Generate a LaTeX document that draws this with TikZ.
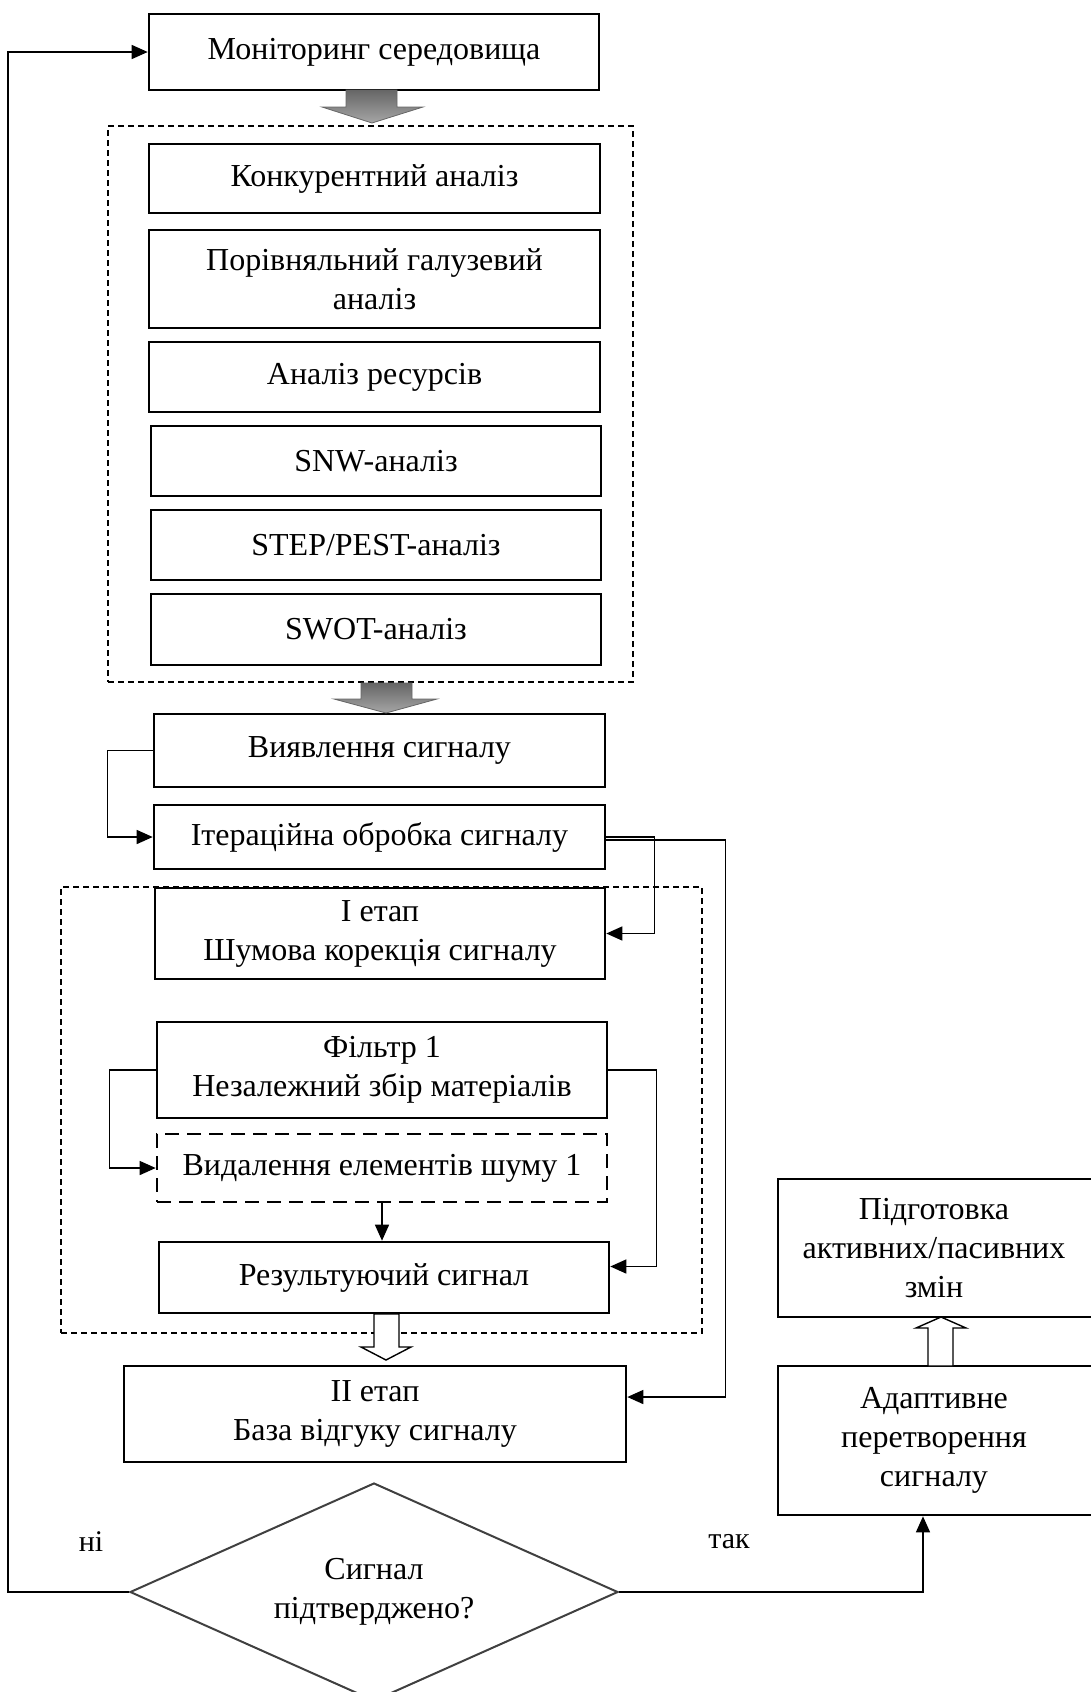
\documentclass[tikz,border=0pt]{standalone}
\usepackage{fontspec}
\setmainfont{Liberation Serif}
\usetikzlibrary{arrows.meta,fit,shapes.geometric,calc}
\begin{document}
\begin{tikzpicture}[x=0.5pt,y=-0.5pt,
  txt/.style={align=center,inner sep=0pt,font={\fontsize{16}{19.5}\selectfont}},
  box/.style={draw,line width=1.3pt,inner sep=0pt},
  dashbox/.style={box,dash pattern=on 7pt off 4pt},
  grp/.style={draw,line width=0.6pt,dash pattern=on 3pt off 2pt,inner sep=0pt},
  conn/.style={line width=0.7pt,-{Triangle[length=8pt,width=7pt]}},
  hollow/.style={draw,line width=0.7pt,fill=white},
  grey/.style={draw=black!60,line width=0.4pt,top color=black!60,bottom color=black!35},
  lbl/.style={font={\fontsize{15}{18}\selectfont},inner sep=0pt}]
\useasboundingbox (0,0) rectangle (1091,1692);
% group frames
\node[grp,fit={(108,126) (633,682)}] (g1) {};
\node[grp,fit={(61,887) (702,1333)}] (g2) {};
% boxes
\node[box,fit={(149,14) (599,90)},label={[txt]center:Моніторинг середовища}] (mon) {};
\node[box,fit={(149,144) (600,213)},label={[txt]center:Конкурентний аналіз}] (k1) {};
\node[box,fit={(149,230) (600,328)},label={[txt]center:Порівняльний галузевий\\аналіз}] (k2) {};
\node[box,fit={(149,342) (600,412)},label={[txt]center:Аналіз ресурсів}] (k3) {};
\node[box,fit={(151,426) (601,496)},label={[txt]center:SNW-аналіз}] (k4) {};
\node[box,fit={(151,510) (601,580)},label={[txt]center:STEP/PEST-аналіз}] (k5) {};
\node[box,fit={(151,594) (601,665)},label={[txt]center:SWOT-аналіз}] (k6) {};
\node[box,fit={(154,714) (605,787)},label={[txt]center:Виявлення сигналу}] (vyav) {};
\node[box,fit={(154,805) (605,869)},label={[txt]center:Ітераційна обробка сигналу}] (iter) {};
\node[box,fit={(155,888) (605,979)},label={[txt]center:I етап\\Шумова корекція сигналу}] (st1) {};
\node[box,fit={(157,1022) (607,1118)},label={[txt]center:Фільтр 1\\Незалежний збір матеріалів}] (filt) {};
\node[dashbox,fit={(157,1134) (607,1202)},label={[txt]center:Видалення елементів шуму 1}] (del) {};
\node[box,fit={(159,1242) (609,1313)},label={[txt]center:Результуючий сигнал}] (res) {};
\node[box,fit={(124,1366) (626,1462)},label={[txt]center:II етап\\База відгуку сигналу}] (st2) {};
\node[box,fit={(778,1179) (1098,1317)},label={[txt,xshift=-2pt]center:Підготовка\\активних/пасивних\\змін}] (prep) {};
\node[box,fit={(778,1366) (1098,1515)},label={[txt,xshift=-2pt]center:Адаптивне\\перетворення\\сигналу}] (adapt) {};
\node[draw=black!75,line width=1pt,diamond,aspect=2.24,minimum width=244pt,minimum height=109pt,inner sep=0pt,align=center,font={\fontsize{16}{19.5}\selectfont}] (dia) at (374,1592) {Сигнал\\підтверджено?};
% labels
\node[lbl] (no) at (91,1542) {ні};
\node[lbl] (yes) at (729,1542) {так};
% block arrows
\shadedraw[grey] (346,90) -- (397,90) -- (397,107) -- (423,107) -- (372,123) -- (322,107) -- (346,107) -- cycle;
\shadedraw[grey] (361,683) -- (412,683) -- (412,699) -- (437,699) -- (386,713) -- (334,699) -- (361,699) -- cycle;
\draw[hollow] (374,1314) -- (399,1314) -- (399,1347) -- (411,1347) -- (386,1360) -- (361,1347) -- (374,1347) -- cycle;
\draw[hollow] (928,1366) -- (953,1366) -- (953,1328) -- (966,1328) -- (941,1317) -- (916,1328) -- (928,1328) -- cycle;
% connectors
\draw[conn] (vyav.west) -- ++(-45,0) |- (iter.west);
\draw[conn] (iter.east) -- ++(48,0) |- (st1.east);
\draw[conn] ([yshift=-1.5pt]iter.east) -- ++(119,0) |- ([yshift=8.5pt]st2.east);
\draw[conn] (filt.west) -- ++(-46,0) |- (del.west);
\draw[conn] (filt.east) -- ++(48,0) |- ([yshift=5.5pt]res.east);
\draw[conn] (del.south) -- (del.south |- res.north);
\draw[conn] (dia.west) -- ++(-121,0) |- (mon.west);
\draw[conn] (dia.east) -| ([xshift=-7.5pt]adapt.south);
\end{tikzpicture}
\end{document}
